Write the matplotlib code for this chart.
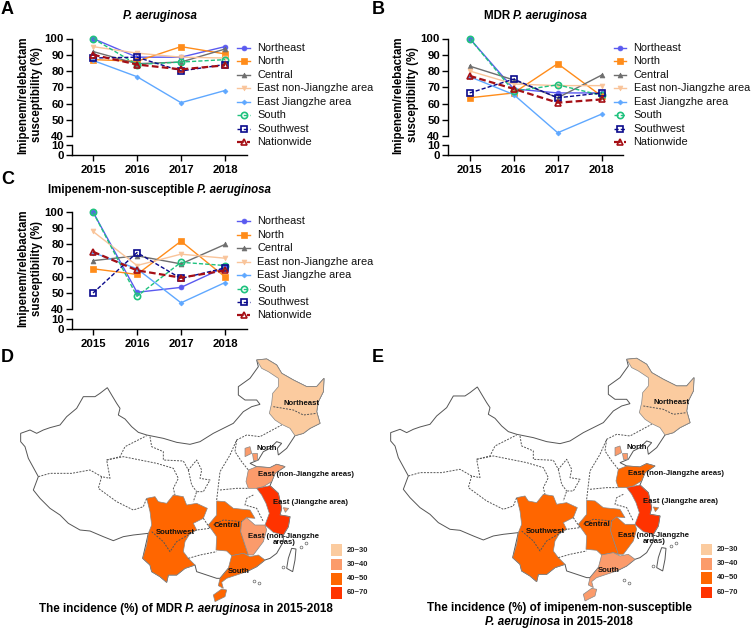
import matplotlib
matplotlib.use('Agg')
import matplotlib.pyplot as plt
from matplotlib.patches import Polygon, Rectangle

plt.rcParams['font.family'] = ['Liberation Sans', 'DejaVu Sans']
W, H = 753, 629

years = [2015, 2016, 2017, 2018]
names = ['Northeast', 'North', 'Central', 'East non-Jiangzhe area', 'East Jiangzhe area',
         'South', 'Southwest', 'Nationwide']
colors = ['#5A5AF0', '#FF8C1A', '#6E6E6E', '#F9C49A', '#5FA8FF', '#1FC27E', '#0A0A8C', '#A50F15']
markers = ['o', 's', '^', 'v', 'D', 'o', 's', '^']
msizes = [3.5, 4, 3.5, 3.5, 2.5, 4.5, 4.5, 4.5]
styles = ['-', '-', '-', '-', '-', '--', '--', '--']
widths = [1.0, 1.0, 1.0, 1.0, 1.0, 1.0, 1.0, 1.6]

values_a = [[100, 88.5, 88.5, 95], [87, 86, 95, 90.5], [92, 84.5, 85.5, 93.5], [95, 91, 88.5, 88],
            [86.5, 76.5, 60.5, 68], [100, 84, 85.5, 87], [88, 88.5, 80, 84], [90, 84, 81, 83.5]]
values_b = [[100, 69, 66.5, 66.5], [63.5, 66.5, 84.5, 64.5], [83, 74.5, 63.5, 77.5], [80, 72, 71, 71],
            [76.5, 65.5, 42, 53.5], [100, 67.5, 71.5, 65], [66.5, 75, 63.5, 66.5], [77, 69, 60.5, 62.5]]
values_c = [[100, 50.5, 53.5, 66], [65, 61.5, 82, 60], [70, 73, 68, 80], [88, 67, 74, 71.5],
            [75, 65, 44, 56.5], [100, 48, 69, 67], [50, 75, 59, 65.5], [75.5, 64, 59.5, 64]]

upper_ticks = [40, 50, 60, 70, 80, 90, 100]
lower_ticks = [0, 10]
ylabel_text = 'Imipenem/relebactam\nsusceptibility (%)'
species = 'P. aeruginosa'
title_a = [(species, 'italic')]
title_b = [('MDR ', 'normal'), (species, 'italic')]
title_c = [('Imipenem-non-susceptible ', 'normal'), (species, 'italic')]

# map outlines (3x crop units)
china = [(770,45),(775,65),(750,100),(715,125),(715,150),(735,165),(770,165),(780,178),(755,185),(730,200),
         (700,235),(670,250),(640,265),(600,290),(570,298),(530,292),(490,280),(440,270),(415,262),(395,245),
         (375,222),(355,210),(360,190),(350,175),(335,150),(322,128),(300,145),(285,155),(250,155),(230,190),
         (200,215),(180,240),(150,248),(130,255),(110,265),(90,255),(62,265),(62,290),(75,305),(85,340),
         (115,395),(100,435),(120,460),(150,490),(180,510),(205,535),(240,555),(270,558),(310,575),(340,587),
         (370,575),(400,570),(445,565),(428,640),(450,660),(455,680),(480,695),
         (500,712),(505,690),(530,690),(555,670),(585,660),(590,680),(620,690),(650,700),(660,700),(685,670),(740,680),
         (770,665),(795,645),(810,640),(830,625),(850,590),(850,570),(865,545),(870,515),(840,510),(845,490),(835,445),
         (810,422),(815,410),(825,385),(855,365),(830,358),(810,368),(770,365),(750,355),(775,345),(790,320),
         (810,310),(830,290),(845,295),(832,310),(835,330),(860,310),(885,272),(910,265),(930,250),(960,235),
         (950,200),(955,170),(970,140),(972,100),(950,125),(920,125),(880,105),(845,85),(830,60),(800,42)]
northeast = [(770,45),(800,42),(830,60),(845,85),(880,105),(920,125),(950,125),(972,100),(970,140),(955,170),
             (950,200),(960,235),(930,250),(910,265),(885,272),(870,250),(845,238),(825,225),(808,205),(815,175),
             (818,145),(835,125),(835,100),(805,80),(785,70)]
southwest = [(440,460),(465,455),(475,470),(500,475),(520,450),(550,455),(560,480),(590,475),(622,490),(610,520),
             (580,535),(590,555),(570,565),(555,590),(550,620),(565,640),(585,660),(555,670),(530,690),(505,690),
             (500,712),(480,695),(455,680),(450,660),(428,640),(440,600),(445,565),(455,540),(450,500)]
central = [(650,468),(675,470),(700,490),(750,495),(765,520),(740,518),(725,530),(722,560),(735,600),(745,630),
           (730,625),(695,632),(680,618),(648,615),(650,575),(625,540),(650,510)]
south = [(695,632),(730,625),(750,635),(775,630),(795,645),(770,665),(740,680),(710,690),(680,700),(665,712),
         (670,730),(655,722),(660,700),(685,670)]
hainan = [(640,750),(665,732),(680,735),(675,755),(645,770)]
east_inland = [(725,530),(740,518),(765,540),(795,540),(800,555),(790,590),(760,630),(745,630),(735,600),(722,560)]
jiangzhe = [(770,430),(810,422),(835,445),(845,490),(840,510),(870,515),(865,545),(850,570),(820,562),(795,540),
            (808,505),(798,475),(785,450)]
shanghai = [(850,488),(866,490),(856,502)]
shandong = [(745,375),(770,365),(810,368),(830,358),(855,365),(825,385),(815,410),(790,425),(770,430),(745,430),(738,410)]
beijing = [(735,310),(750,305),(755,325),(735,335)]
tianjin = [(755,325),(772,325),(772,345),(760,345)]
taiwan = [(875,610),(888,612),(885,645),(878,680),(860,670),(865,640)]
islands = [(902,605),(918,595),(850,665),(763,708),(778,715)]
borders = [
    [(115,395),(150,385),(215,385),(270,375),(305,395),(330,400),(320,345),(360,335),(375,305),(440,272)],
    [(305,395),(295,430),(350,470),(400,495),(430,485),(440,460)],
    [(320,345),(370,335),(420,345),(470,355),(520,370),(535,400),(520,430),(525,450)],
    [(450,275),(455,305),(490,320),(490,345),(550,348),(565,375),(590,345),(605,375),(600,400),(630,405),(610,440),(590,440),(580,470)],
    [(565,375),(575,420),(590,440)],
    [(650,465),(660,380),(690,330),(710,285),(740,270),(780,275),(845,240)],
    [(710,285),(705,320),(725,350),(745,375)],
    [(660,435),(710,430),(745,430)],
    [(760,450),(740,460),(735,480),(770,490),(790,530)],
    [(565,640),(600,630),(650,620)],
    [(455,560),(490,590),(510,620),(530,590),(590,555)],
    [(820,185),(880,195),(910,210),(950,205)],
    [(640,540),(670,525),(725,530)],
    [(610,520),(630,550),(590,555)],
]
legend_labels = ['20~30', '30~40', '40~50', '60~70']
legend_colors = ['#FBCB9F', '#FB9B6B', '#FF6600', '#FF3300']
# colour class of each region per map: index into legend_colors
classes_d = dict(northeast=0, north=1, shandong=1, jiangzhe=3, inland=1, central=2, southwest=2, south=2)
classes_e = dict(northeast=0, north=1, shandong=2, jiangzhe=3, inland=2, central=2, southwest=2, south=1)
map_labels = [('Northeast', 904, 175), ('North', 800, 311), ('East (non-Jiangzhe areas)', 918, 388),
              ('East (Jiangzhe area)', 932, 471), ('Southwest', 527, 562), ('Central', 682, 541),
              ('East (non-Jiangzhe\nareas)', 852, 582), ('South', 715, 680)]
title_d = [('The incidence (%) of MDR ', 'normal'), (species, 'italic'), (' in 2015-2018', 'normal')]
title_e1 = [('The incidence (%) of imipenem-non-susceptible', 'normal')]
title_e2 = [(species, 'italic'), (' in 2015-2018', 'normal')]

fig = plt.figure(figsize=(W / 100, H / 100), dpi=100)
renderer = fig.canvas.get_renderer()


def px_axes(x0, y0, x1, y1):
    return fig.add_axes([x0 / W, 1 - y1 / H, (x1 - x0) / W, (y1 - y0) / H])


def ftext(x, y, s, **kw):
    return fig.text(x / W, 1 - y / H, s, **kw)


def rich_title(cx, y, segments, fontsize):
    # lay mixed upright / italic pieces side by side, centred on cx
    arts = []
    total = 0.0
    for s, st in segments:
        t = ftext(0, y, s.replace(' ', '\u00a0'), fontsize=fontsize, fontweight='bold', fontstyle=st,
                  ha='left', va='center')
        w = t.get_window_extent(renderer).width
        arts.append((t, w))
        total += w
    x = cx - total / 2
    for t, w in arts:
        t.set_x(x / W)
        x += w


def line_panel(values, x0, x1, tick0, y100, y40, y10, y0, title, title_x, title_y, lab_x):
    top = px_axes(x0, y100, x1, y40)
    low = px_axes(x0, y10, x1, y0)
    step = 44.0
    lim = (2015 - (tick0 - x0) / step, 2015 + (x1 - tick0) / step)
    for ax in (top, low):
        ax.set_xlim(lim)
        ax.patch.set_alpha(0)
        for s in ('top', 'right'):
            ax.spines[s].set_visible(False)
        ax.spines['left'].set_linewidth(1.0)
        ax.tick_params(width=1.0, length=4, labelsize=8.2, pad=1.5)
    top.spines['bottom'].set_visible(False)
    top.set_xticks([])
    top.set_ylim(40, 100)
    low.set_ylim(0, 10)
    top.set_yticks(upper_ticks)
    low.set_yticks(lower_ticks)
    low.set_xticks(years)
    low.spines['bottom'].set_linewidth(1.0)
    low.tick_params(axis='x', pad=3)
    for ax in (top, low):
        for t in ax.get_xticklabels() + ax.get_yticklabels():
            t.set_fontweight('bold')
    for i, vals in enumerate(values):
        filled = i < 5
        top.plot(years, vals, color=colors[i], ls=styles[i], lw=widths[i], marker=markers[i],
                 ms=msizes[i], mfc=colors[i] if filled else 'none',
                 mew=1.2 if not filled else 0.5, clip_on=False, zorder=3 + i,
                 dashes=(3, 1.5) if styles[i] == '--' else (None, None))
    rich_title(title_x, title_y, title, 8.3)
    ftext(lab_x, (y100 + y0) / 2 - 2, ylabel_text, fontsize=8.3, fontweight='bold', rotation=90,
          ha='center', va='center', linespacing=1.25)
    # legend
    ly = y100 + 9.3
    for i, name in enumerate(names):
        y = ly + i * 13.45
        ax_leg_y = 1 - y / H
        fig.add_artist(plt.Line2D([(x1 - 9.5) / W, (x1 + 3) / W], [ax_leg_y, ax_leg_y], color=colors[i],
                                  ls=styles[i], lw=widths[i], marker=None,
                                  dashes=(3, 1.5) if styles[i] == '--' else (None, None)))
        fig.add_artist(plt.Line2D([(x1 - 3.2) / W], [ax_leg_y], color=colors[i], marker=markers[i],
                                  ms=msizes[i], mfc=colors[i] if i < 5 else 'none',
                                  mew=1.2 if i >= 5 else 0.5, ls='none'))
        ftext(x1 + 10.5, y, name, fontsize=7.9, ha='left', va='center', color='#111111')


line_panel(values_a, 71.7, 246.7, 93, 38.5, 136, 144.7, 155.3, title_a, 159.5, 16, 30)
line_panel(values_b, 447.7, 623, 469.7, 38.5, 136, 144.7, 155.3, title_b, 535.5, 16, 405.5)
line_panel(values_c, 71.7, 246.7, 93, 212, 309.3, 318.7, 329, title_c, 159.5, 189.5, 30)

for letter, x, y in [('A', 1, 10), ('B', 372, 10), ('C', 1, 180), ('D', 1, 358), ('E', 372, 358)]:
    ftext(x, y, letter, fontsize=13, fontweight='bold', ha='left', va='center')


def region(ax, pts, cls):
    ax.add_patch(Polygon(pts, closed=True, fc=legend_colors[cls], ec='#888888', lw=0.5, zorder=3))


def map_panel(x0, y0, classes):
    ax = px_axes(x0, y0, x0 + 380, y0 + 284)
    ax.set_xlim(0, 1140)
    ax.set_ylim(852, 0)
    ax.axis('off')
    ax.patch.set_alpha(0)
    ax.add_patch(Polygon(china, closed=True, fc='white', ec='#555555', lw=0.7, zorder=1))
    region(ax, northeast, classes['northeast'])
    region(ax, beijing, classes['north'])
    region(ax, tianjin, classes['north'])
    region(ax, shandong, classes['shandong'])
    region(ax, jiangzhe, classes['jiangzhe'])
    region(ax, shanghai, classes['inland'])
    region(ax, central, classes['central'])
    region(ax, east_inland, classes['inland'])
    region(ax, southwest, classes['southwest'])
    region(ax, south, classes['south'])
    region(ax, hainan, classes['south'])
    ax.add_patch(Polygon(taiwan, closed=True, fc='white', ec='#555555', lw=0.7, zorder=2))
    ax.plot(*zip(*islands), ls='none', marker='o', ms=2, mfc='white', mec='#666666', mew=0.5, zorder=2)
    for b in borders:
        ax.plot(*zip(*b), color='#555555', lw=0.7, ls=(0, (2, 1.3)), zorder=4)
    for s, x, y in map_labels:
        ax.text(x, y, s, fontsize=5.6, fontweight='bold', ha='center', va='center', zorder=6,
                linespacing=0.8, color='#111111')
    for i, (lab, col) in enumerate(zip(legend_labels, legend_colors)):
        ax.add_patch(Rectangle((993, 598 + i * 43), 34, 35, fc=col, ec='none', zorder=5))
        ax.text(1040, 615 + i * 43, lab, fontsize=5.5, fontweight='bold', ha='left', va='center', color='#222222')
    return ax


map_panel(0, 345, classes_d)
map_panel(370, 344.3, classes_e)
rich_title(186, 609, title_d, 8.4)
rich_title(559, 608, title_e1, 8.4)
rich_title(559, 622, title_e2, 8.4)

fig.savefig('out.png', dpi=100)
